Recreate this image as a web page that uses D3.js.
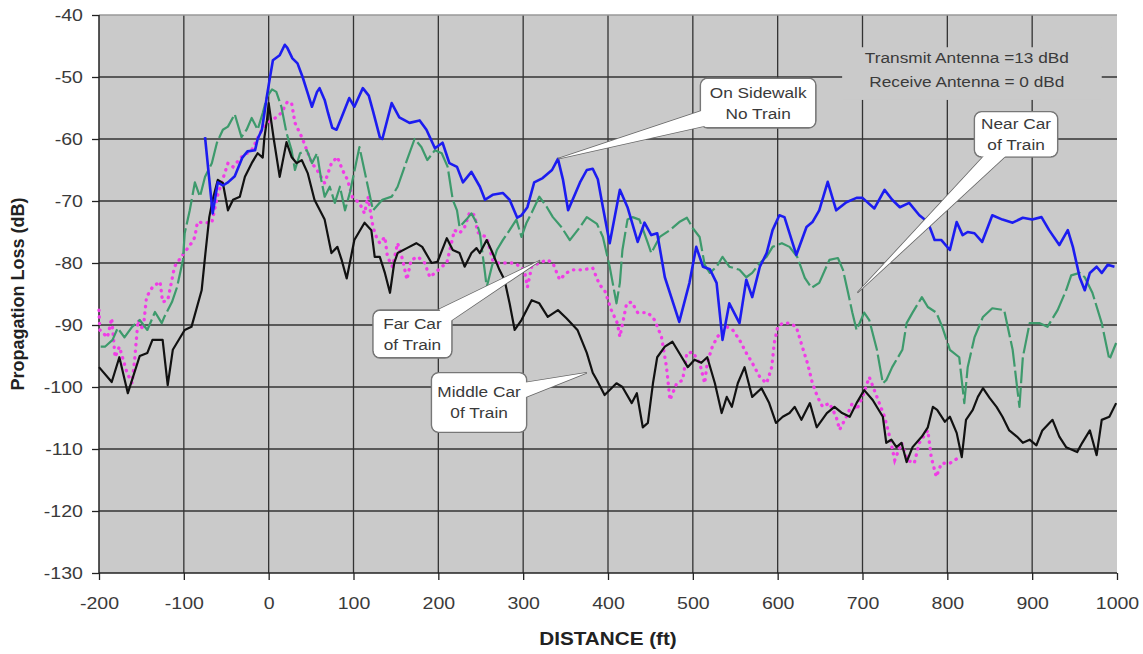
<!DOCTYPE html>
<html>
<head>
<meta charset="utf-8">
<script src="https://cdn.jsdelivr.net/npm/d3@7"></script>
<style>
  body { margin: 0; background: #fff; }
  svg { display: block; font-family: "Liberation Sans", Arial, sans-serif; }
</style>
</head>
<body>
<svg width="1143" height="654"></svg>
<script>
// tick values
const xTicks = d3.range(-200, 1001, 100);
const yTicks = d3.range(-130, -39, 10);

// series values, [distance ft, loss dB]
const sidewalk = [
  [-75,-59.7],[-66,-72],[-60,-67],[-54,-67.5],[-48,-67],[-40,-66],[-31,-63],[-25,-62],[-16,-61.8],[-13,-60],
  [-8,-58.5],[-5,-55.8],[-2,-53],[1,-50.5],[5,-47.3],[13,-46.5],[19,-44.8],[22,-45.3],[28,-47],[34,-47.8],
  [40,-50],[46,-52.6],[51,-54.8],[57,-52.4],[60,-51.8],[66,-53.7],[70,-55.8],[75,-58.2],[80,-58.5],[86,-56.5],
  [95,-53.4],[101,-54.8],[111,-51.8],[118,-53],[123,-55.5],[131,-59.7],[134,-60],[145,-54.2],[154,-56.5],[166,-57.4],
  [178,-57],[186,-58.5],[196,-61.5],[205,-60.6],[213,-63.9],[222,-64.5],[229,-67],[239,-65.3],[249,-67.7],[255,-69.8],
  [264,-69],[276,-68.7],[284,-69.8],[293,-72.7],[298,-72.3],[305,-71],[313,-67],[323,-66.3],[334,-65],[341,-63.2],
  [347,-66.6],[353,-71.5],[367,-67],[375,-65],[382,-64.8],[388,-66.5],[394,-71],[402,-76.8],[414,-68.2],[423,-71],
  [435,-76.6],[443,-73.5],[451,-75.5],[458,-75.2],[467,-82.3],[484,-89.5],[496,-83.2],[504,-77.4],[512,-80.6],[520,-81],
  [528,-83.2],[535,-92.4],[543,-86.5],[555,-89.7],[563,-82.7],[570,-85.5],[579,-80.6],[587,-78.4],[594,-74.7],[602,-72.3],
  [608,-72.6],[622,-78.7],[634,-74.2],[641,-73.4],[649,-71.5],[659,-66.9],[669,-71.5],[681,-70.2],[693,-69.5],[700,-69.5],
  [714,-71.2],[726,-68.2],[735,-69.8],[744,-71],[755,-70.3],[767,-72.3],[777,-73.4],[785,-76.3],[793,-76.3],[803,-77.9],
  [811,-73.4],[818,-75.5],[824,-75],[832,-75.2],[841,-76.6],[853,-72.3],[865,-73],[877,-73.5],[889,-72.7],[900,-73],
  [911,-72.6],[920,-74.7],[932,-77.1],[942,-74.7],[948,-77.4],[956,-82.3],[962,-84.4],[968,-81.6],[976,-80.6],[982,-81.6],
  [989,-80.3],[997,-80.6]
];

const nearCar = [
  [-198,-93.5],[-193,-93.5],[-184,-92.4],[-178,-90.5],[-170,-92],[-161,-90.3],[-152,-89.2],[-143,-90.8],[-134,-87.9],[-126,-89.7],
  [-123,-88.7],[-114,-86.3],[-108,-83.9],[-101,-79.5],[-99,-75.2],[-93,-71.5],[-87,-67],[-81,-69.3],[-75,-66.1],[-67,-63.9],
  [-61,-60.6],[-54,-58.5],[-48,-58],[-40,-56],[-32,-59.7],[-26,-58.5],[-20,-56.6],[-13,-58.5],[-7,-55.8],[-2,-53.2],
  [4,-52],[9,-52.4],[15,-54.8],[21,-59],[27,-61.8],[31,-65],[37,-62.3],[45,-61.8],[51,-63.9],[57,-62.3],
  [62,-66.6],[66,-69.3],[72,-67.7],[78,-70.3],[84,-67.7],[90,-71.5],[96,-68.5],[107,-61.3],[117,-67.7],[123,-71.5],
  [134,-69.8],[145,-69.3],[152,-67.7],[163,-63.4],[172,-60],[180,-61.3],[187,-63.4],[196,-61.8],[204,-62.3],[211,-64.5],
  [217,-69.8],[222,-71.5],[225,-74.2],[233,-73],[239,-72],[245,-73.5],[249,-75.2],[255,-81.6],[257,-83.9],[263,-80.6],
  [269,-77.9],[276,-76.3],[284,-74.7],[292,-73],[298,-75.8],[304,-73.5],[310,-71.9],[319,-69.3],[328,-71],[335,-72.6],
  [345,-74.2],[355,-76.3],[367,-74.2],[375,-72.6],[387,-73.7],[394,-75.8],[402,-80.6],[410,-86.5],[414,-83.2],[417,-77.9],
  [423,-73],[429,-72.6],[437,-73],[447,-76.8],[451,-78.4],[461,-75.8],[473,-74.7],[484,-73.4],[493,-72.7],[500,-74.4],
  [508,-75.8],[514,-80.3],[520,-81.6],[528,-80.6],[535,-79],[543,-80.6],[555,-81.1],[563,-82.3],[570,-81.6],[579,-80],
  [587,-79],[594,-77.4],[605,-76.8],[614,-77.4],[623,-79],[632,-82.4],[640,-84],[649,-83.2],[661,-79.5],[671,-79.2],
  [677,-81.1],[683,-84.8],[688,-88],[693,-90.8],[702,-88],[708,-89.2],[717,-94],[724,-99.4],[728,-98.9],[735,-96.8],
  [747,-94],[752,-89.7],[759,-88],[770,-85.5],[777,-87.1],[787,-88],[794,-90.3],[803,-94],[814,-95.2],[820,-102.6],
  [824,-96.8],[832,-92],[842,-88.7],[853,-87.3],[867,-87.6],[877,-94],[885,-103.2],[889,-95.2],[897,-89.7],[909,-89.7],
  [918,-90.3],[930,-87.6],[940,-84.4],[946,-82],[956,-81.6],[962,-82.3],[971,-84.8],[982,-89.7],[991,-95.6],[999,-92.9]
];

const farCar = [
  [-200,-87.6],[-199,-90.8],[-190,-92],[-185,-88.9],[-181,-95.2],[-176,-93.5],[-167,-97.7],[-161,-99.4],[-158,-95.6],[-154,-89.2],
  [-148,-90.8],[-144,-85.5],[-137,-83.9],[-128,-83],[-125,-86.3],[-119,-86],[-114,-82.7],[-111,-80.6],[-103,-79],[-97,-77.9],
  [-90,-76.6],[-87,-75.8],[-84,-73.4],[-75,-73.5],[-67,-73.5],[-60,-69],[-48,-63.9],[-42,-64.5],[-32,-62.9],[-20,-61.8],
  [-8,-58.5],[-1,-57.4],[9,-56.5],[15,-55.8],[22,-54],[27,-54.2],[31,-57.4],[39,-59.7],[45,-61.8],[51,-63.9],
  [57,-65],[66,-67.1],[74,-63.9],[81,-62.9],[87,-65],[93,-66.6],[99,-69.5],[107,-70.3],[113,-72],[117,-69.3],
  [123,-74.2],[127,-75.8],[131,-76.8],[137,-75.8],[140,-79],[146,-80.6],[152,-76.8],[158,-79.5],[163,-82.7],[168,-79.5],
  [176,-79],[184,-80],[190,-82.3],[196,-81.6],[204,-80.6],[210,-80],[219,-74.7],[225,-75.2],[231,-74.2],[237,-71.8],
  [243,-72.3],[246,-75],[251,-75.5],[257,-75.8],[264,-79.5],[270,-80],[280,-80],[288,-80],[298,-80.6],[302,-81.6],
  [305,-83.9],[310,-80.6],[319,-80],[328,-79.5],[335,-80],[343,-82.7],[351,-81.6],[358,-81.1],[370,-81.1],[382,-80.8],
  [390,-83.5],[396,-84.4],[404,-87.6],[411,-89.7],[414,-91.9],[422,-86.5],[428,-86.3],[435,-88],[447,-88],[455,-89.2],
  [463,-91.9],[469,-96.8],[473,-102.1],[481,-99.4],[488,-98.9],[493,-94.5],[500,-94.4],[508,-96.1],[514,-99.4],[517,-96.1],
  [523,-93.5],[529,-91.9],[540,-90.3],[547,-90.8],[555,-92.4],[563,-94.5],[570,-96.1],[579,-98.4],[587,-99.4],[593,-96.8],
  [596,-92.9],[600,-90.3],[606,-89.7],[614,-89.7],[622,-90.3],[629,-93.5],[635,-96.1],[641,-99.4],[647,-101.6],[653,-103.2],
  [661,-102.6],[669,-104.8],[673,-106.9],[681,-104.8],[688,-102.6],[693,-103.7],[700,-101.6],[708,-98.4],[717,-101.6],[726,-104.8],
  [732,-108],[738,-111.8],[746,-109],[753,-111.8],[761,-112.3],[767,-109],[777,-107],[781,-111.3],[787,-114.5],[793,-112.3],
  [803,-112.3],[812,-111.5]
];

const middleCar = [
  [-200,-96.8],[-185,-99.2],[-176,-95.2],[-166,-101],[-152,-95],[-143,-94.5],[-137,-92.4],[-125,-92.4],[-119,-99.7],[-113,-94],
  [-99,-90.8],[-91,-90.3],[-79,-84.4],[-75,-79],[-70,-72.6],[-66,-69.8],[-60,-66.6],[-54,-67.1],[-48,-71.5],[-42,-69.8],
  [-34,-69.3],[-28,-66.1],[-20,-63.9],[-13,-62.3],[-7,-63],[-5,-59.7],[-2,-57],[0,-54.2],[6,-60],[13,-66.1],
  [21,-60.5],[27,-62.9],[33,-63.9],[39,-63.4],[46,-65.5],[54,-69.8],[66,-73],[74,-78.4],[81,-77.4],[86,-79.5],
  [92,-82.5],[101,-76.3],[113,-73.5],[121,-74.7],[125,-79],[131,-79],[137,-81.6],[143,-84.8],[148,-80],[152,-78.4],
  [163,-77.6],[174,-76.8],[181,-77.4],[192,-80],[199,-79.8],[210,-76],[217,-77.9],[225,-78.4],[231,-80.6],[239,-78.4],
  [245,-77.6],[249,-78.4],[257,-76.3],[264,-78.4],[272,-81.1],[278,-82.7],[284,-86.5],[290,-90.8],[298,-89.2],[310,-86],
  [319,-86.5],[329,-88.7],[341,-87.6],[351,-88.9],[364,-90.8],[375,-94.5],[382,-97.7],[387,-98.9],[396,-101.3],[410,-99.4],
  [417,-100],[428,-102.6],[434,-101],[441,-106.5],[447,-105.8],[453,-99.4],[458,-95.2],[467,-93.5],[476,-92.7],[487,-95.2],
  [494,-96.8],[502,-95.6],[510,-96.1],[517,-95.2],[526,-99.4],[534,-104.2],[540,-101.6],[546,-103.2],[553,-99.4],[561,-96.8],
  [570,-101.6],[581,-100.2],[590,-102.6],[598,-105.8],[606,-104.8],[614,-104.2],[620,-103.2],[628,-105.3],[638,-102.6],[646,-106.5],
  [658,-104.2],[667,-103.2],[676,-104.2],[685,-104.8],[693,-102.6],[702,-100.5],[712,-102.1],[724,-104.8],[728,-109],[734,-108.5],
  [740,-109.7],[746,-109],[752,-112.1],[759,-109.7],[770,-108],[777,-106.5],[783,-103.2],[788,-103.7],[797,-105.6],[803,-104.8],
  [811,-107.4],[817,-111.3],[822,-105.3],[830,-103.7],[836,-101.6],[842,-100.2],[850,-101.8],[858,-103.2],[865,-104.8],[873,-107],
  [882,-108],[889,-109],[897,-108.5],[905,-109.4],[912,-107],[924,-105.3],[932,-108],[940,-109.7],[953,-110.5],[959,-109],
  [968,-107],[976,-111],[982,-105.3],[991,-104.8],[999,-102.6]
];

// callouts: text lines, box corners and pointer tip in data units
const callouts = [
  { lines: ["On Sidewalk", "No Train"], box: [509, -50.2, 645, -58.2], tip: [341, -63.2] },
  { lines: ["Near Car", "of Train"], box: [832, -55.6, 930, -62.9], tip: [694, -84.8] },
  { lines: ["Far Car", "of Train"], box: [123, -87.6, 216, -95.3], tip: [320, -79.6] },
  { lines: ["Middle Car", "0f Train"], box: [192, -97.7, 304, -107.3], tip: [375, -97.7] }
];
const antennaNote = ["Transmit Antenna =13 dBd", "Receive Antenna = 0 dBd"];

const margin = { top: 15, right: 26, bottom: 81, left: 99 };
const width = 1143 - margin.left - margin.right;
const height = 654 - margin.top - margin.bottom;
const stretch = "scale(1.15,1)"; // the source text is a little wide

const svg = d3.select("svg").append("g")
    .attr("transform", `translate(${margin.left},${margin.top})`);

const x = d3.scaleLinear().domain([-200, 1000]).range([0, width]);
const y = d3.scaleLinear().domain([-130, -40]).range([height, 0]);

// plot background
svg.append("rect")
    .attr("width", width).attr("height", height)
    .attr("fill", "#cacaca");

// gridlines
svg.append("g").selectAll("line")
    .data(xTicks.filter(d => d > -200 && d < 1000))
    .join("line")
    .attr("x1", d => x(d)).attr("x2", d => x(d))
    .attr("y1", 0).attr("y2", height)
    .attr("stroke", "#333").attr("stroke-width", 1.3);

svg.append("g").selectAll("line")
    .data(yTicks.filter(d => d > -130))
    .join("line")
    .attr("x1", 0).attr("x2", width)
    .attr("y1", d => y(d)).attr("y2", d => y(d))
    .attr("stroke", d => d === -40 ? "#999" : "#333").attr("stroke-width", 1.3);

// antenna note box covers the grid
const nb = { x0: x(676), x1: x(982), y0: y(-45.2), y1: y(-53.7) };
svg.append("rect")
    .attr("x", nb.x0).attr("y", nb.y0)
    .attr("width", nb.x1 - nb.x0).attr("height", nb.y1 - nb.y0)
    .attr("fill", "#cacaca");
svg.append("g").selectAll("g")
    .data(antennaNote)
    .join("g")
    .attr("transform", (d, i) => `translate(${x(823)},${y(-46.9 - i * 3.9)}) ${stretch}`)
    .append("text")
    .attr("dy", "0.35em")
    .attr("text-anchor", "middle")
    .attr("font-size", 15)
    .attr("fill", "#3a3a3a")
    .text(d => d);

// axes
const yAxis = svg.append("g")
    .call(d3.axisLeft(y).tickValues(yTicks).tickSize(7).tickPadding(7).tickFormat(d => String(d)));
const xAxis = svg.append("g")
    .attr("transform", `translate(0,${height})`)
    .call(d3.axisBottom(x).tickValues(xTicks).tickSize(7).tickPadding(17).tickFormat(d => String(d)));

[xAxis, yAxis].forEach(a => {
  a.select(".domain").attr("stroke", "#222").attr("stroke-width", 1.5);
  a.selectAll(".tick line").attr("stroke", "#222").attr("stroke-width", 1.3);
  a.selectAll(".tick text")
      .attr("font-family", "'Liberation Sans', Arial, sans-serif")
      .attr("font-size", 17)
      .attr("fill", "#3a3a3a")
      .attr("transform", stretch);
});
xAxis.select(".domain").attr("d", `M0,0H${width}`);
yAxis.select(".domain").attr("d", `M0,${height}V0`);

// axis titles
svg.append("text")
    .attr("transform", `translate(${18 - margin.left},${height / 2}) rotate(-90)`)
    .attr("text-anchor", "middle")
    .attr("dy", "0.35em")
    .attr("font-size", 18)
    .attr("font-weight", "bold")
    .attr("fill", "#222")
    .text("Propagation Loss (dB)");

svg.append("g")
    .attr("transform", `translate(${width / 2},${height + 66}) ${stretch}`)
    .append("text")
    .attr("text-anchor", "middle")
    .attr("dy", "0.35em")
    .attr("font-size", 18)
    .attr("font-weight", "bold")
    .attr("fill", "#222")
    .text("DISTANCE (ft)");

// lines
const line = d3.line().x(d => x(d[0])).y(d => y(d[1]));

svg.append("path")
    .datum(farCar)
    .attr("fill", "none")
    .attr("stroke", "#f03ce6")
    .attr("stroke-width", 3.3)
    .attr("stroke-linecap", "round")
    .attr("stroke-dasharray", "0.4 6.2")
    .attr("d", line);

svg.append("path")
    .datum(nearCar)
    .attr("fill", "none")
    .attr("stroke", "#3d9a6c")
    .attr("stroke-width", 2.2)
    .attr("stroke-linejoin", "round")
    .attr("stroke-dasharray", "26 4")
    .attr("d", line);

svg.append("path")
    .datum(middleCar)
    .attr("fill", "none")
    .attr("stroke", "#111")
    .attr("stroke-width", 2.2)
    .attr("stroke-linejoin", "round")
    .attr("d", line);

svg.append("path")
    .datum(sidewalk)
    .attr("fill", "none")
    .attr("stroke", "#1c1cf0")
    .attr("stroke-width", 2.6)
    .attr("stroke-linejoin", "round")
    .attr("d", line);

// callouts: outlines first, fills on top so box and pointer merge
const shapes = callouts.map(c => {
  const bx0 = x(c.box[0]), bx1 = x(c.box[2]), by0 = y(c.box[1]), by1 = y(c.box[3]);
  const cx = (bx0 + bx1) / 2, cy = (by0 + by1) / 2;
  const tx = x(c.tip[0]), ty = y(c.tip[1]);
  const dx = tx - cx, dy = ty - cy;
  const len = Math.hypot(dx, dy);
  const s = Math.min(Math.abs((bx1 - bx0) / 2 / dx), Math.abs((by1 - by0) / 2 / dy));
  const ux = dx / len, uy = dy / len;
  const ex = cx + dx * s - ux * 10, ey = cy + dy * s - uy * 10;
  const w = 8;
  const wedge = `M${ex - uy * w},${ey + ux * w}L${tx},${ty}L${ex + uy * w},${ey - ux * w}Z`;
  return { c, bx0, bx1, by0, by1, cx, cy, wedge };
});

const cg = svg.append("g");
shapes.forEach(s => {
  cg.append("path").attr("d", s.wedge).attr("fill", "#fff").attr("stroke", "#666").attr("stroke-width", 1.6);
  cg.append("rect")
      .attr("x", s.bx0).attr("y", s.by0)
      .attr("width", s.bx1 - s.bx0).attr("height", s.by1 - s.by0)
      .attr("rx", 7)
      .attr("fill", "#fff").attr("stroke", "#777").attr("stroke-width", 1.6);
});
shapes.forEach(s => {
  cg.append("rect")
      .attr("x", s.bx0 + 0.8).attr("y", s.by0 + 0.8)
      .attr("width", s.bx1 - s.bx0 - 1.6).attr("height", s.by1 - s.by0 - 1.6)
      .attr("rx", 6.5)
      .attr("fill", "#fff");
  cg.append("path").attr("d", s.wedge).attr("fill", "#fff").attr("stroke", "none");
  cg.append("g").selectAll("g")
      .data(s.c.lines)
      .join("g")
      .attr("transform", (d, i) => `translate(${s.cx},${s.cy + (i - 0.5) * 21}) ${stretch}`)
      .append("text")
      .attr("dy", "0.35em")
      .attr("text-anchor", "middle")
      .attr("font-size", 15)
      .attr("fill", "#3a3a3a")
      .text(d => d);
});
</script>
</body>
</html>
